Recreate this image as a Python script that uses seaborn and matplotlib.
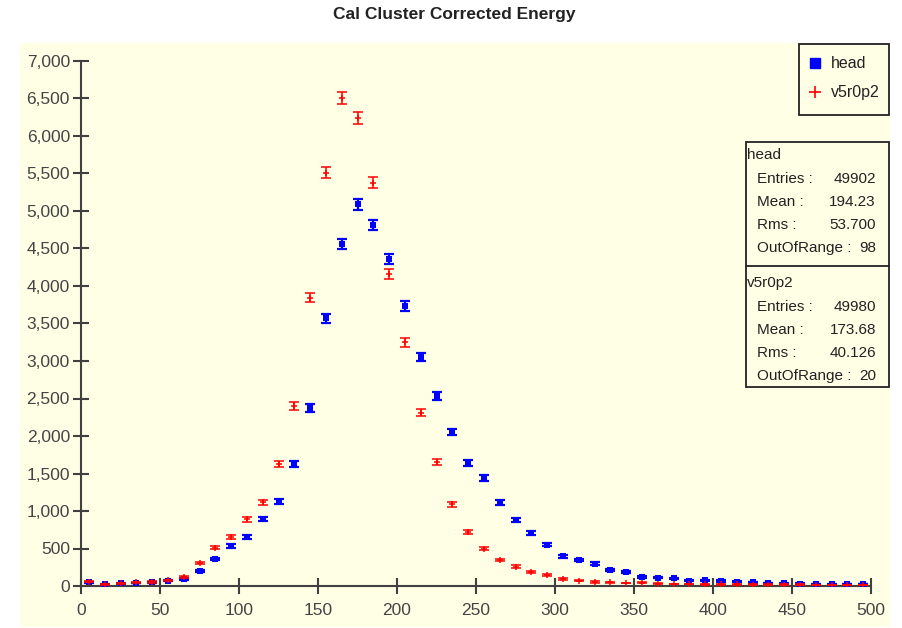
import numpy as np
import pandas as pd
import matplotlib
matplotlib.use("Agg")
import matplotlib.pyplot as plt
import seaborn as sns
from matplotlib.patches import Rectangle
from matplotlib.lines import Line2D
from matplotlib.ticker import StrMethodFormatter, MultipleLocator

# ---------------- data ----------------
bin_centers = [5, 15, 25, 35, 45, 55, 65, 75, 85, 95,
               105, 115, 125, 135, 145, 155, 165, 175, 185, 195,
               205, 215, 225, 235, 245, 255, 265, 275, 285, 295,
               305, 315, 325, 335, 345, 355, 365, 375, 385, 395,
               405, 415, 425, 435, 445, 455, 465, 475, 485, 495]

head_counts = [50, 25, 35, 40, 50, 70, 95, 204, 360, 533,
               649, 893, 1133, 1627, 2373, 3569, 4560, 5089, 4813, 4360,
               3733, 3049, 2533, 2053, 1640, 1440, 1111, 880, 711, 551,
               400, 347, 298, 213, 190, 124, 111, 102, 71, 76,
               67, 58, 49, 40, 36, 31, 22, 22, 27, 27]

v5_counts = [57, 25, 35, 49, 53, 76, 116, 307, 511, 658,
             889, 1116, 1627, 2400, 3844, 5511, 6511, 6236, 5378, 4156,
             3249, 2311, 1653, 1090, 716, 498, 347, 258, 187, 142,
             93, 71, 53, 49, 40, 44, 31, 27, 27, 22,
             22, 22, 18, 18, 18, 18, 13, 13, 13, 13]

series_names = ["head", "v5r0p2"]
series_colors = ["#0000FF", "#FF0000"]

stat_labels = ["Entries :", "Mean :", "Rms :", "OutOfRange :"]
head_stats = ["49902", "194.23", "53.700", "98"]
v5_stats = ["49980", "173.68", "40.126", "20"]

title_text = "Cal Cluster Corrected Energy"

# ---------------- style ----------------
sns.set_style("ticks")
plt.rcParams["font.family"] = ["Liberation Sans", "DejaVu Sans"]

W, H = 903, 628
PANEL = "#FFFFE6"
AXC = "#404040"


def fx(x):
    return x / W


def fy(y):
    return 1 - y / H


fig = plt.figure(figsize=(W / 100, H / 100), dpi=100)
fig.patch.set_facecolor("white")
fig.patches.append(Rectangle((fx(20), fy(627)), (890 - 20) / W, (627 - 43) / H,
                             transform=fig.transFigure, facecolor=PANEL,
                             edgecolor="none", zorder=-10))

ax = fig.add_axes([fx(81), fy(586), 790 / W, 525 / H])
ax.set_zorder(1)
ax.set_facecolor("none")

df = pd.DataFrame({
    "x": bin_centers * 2,
    "count": head_counts + v5_counts,
    "series": [series_names[0]] * len(bin_centers) + [series_names[1]] * len(bin_centers),
})
df["err"] = np.sqrt(df["count"])

# blue (head) first, red on top
h = df[df.series == "head"]
ax.errorbar(h["x"], h["count"], yerr=h["err"], fmt="none", ecolor=series_colors[0],
            elinewidth=1.6, capsize=3.7, capthick=1.6, zorder=3)
sns.scatterplot(data=h, x="x", y="count", marker="s", s=14, color=series_colors[0],
                edgecolor=series_colors[0], linewidth=0, ax=ax, zorder=4, legend=False)

r = df[df.series == "v5r0p2"]
ax.errorbar(r["x"], r["count"], yerr=r["err"], fmt="none", ecolor=series_colors[1],
            elinewidth=1.1, capsize=3.6, capthick=1.1, zorder=5)
sns.scatterplot(data=r, x="x", y="count", marker="+", s=22, color=series_colors[1],
                linewidth=1.1, ax=ax, zorder=6, legend=False)

ax.set_xlim(0, 500)
ax.set_ylim(0, 7000)
ax.set_xlabel("")
ax.set_ylabel("")
ax.xaxis.set_major_locator(MultipleLocator(50))
ax.yaxis.set_major_locator(MultipleLocator(500))
ax.yaxis.set_major_formatter(StrMethodFormatter("{x:,.0f}"))
for s in ["top", "right"]:
    ax.spines[s].set_visible(False)
for s in ["left", "bottom"]:
    ax.spines[s].set_color(AXC)
    ax.spines[s].set_linewidth(1.5)
ax.tick_params(axis="both", direction="inout", length=12, width=1.5, color=AXC,
               labelsize=12.5, labelcolor="#444444")
ax.tick_params(axis="y", pad=2)
ax.tick_params(axis="x", pad=6)

# title
fig.text(fx(454), fy(15), title_text, ha="center", va="center", fontsize=12.5,
         fontweight="bold", color="#222222")

# legend box
fig.patches.append(Rectangle((fx(799), fy(115)), 90 / W, 71 / H, transform=fig.transFigure,
                             facecolor=PANEL, edgecolor="#222222", linewidth=1.3, zorder=10))
fig.add_artist(Line2D([fx(815)], [fy(63)], marker="s", markersize=6.5, color=series_colors[0],
                      linestyle="none", transform=fig.transFigure, zorder=11))
fig.add_artist(Line2D([fx(815)], [fy(92)], marker="+", markersize=9, markeredgewidth=1.2,
                      color=series_colors[1], linestyle="none", transform=fig.transFigure, zorder=11))
fig.text(fx(831), fy(63), series_names[0], ha="left", va="center", fontsize=11.5, color="#222222", zorder=12)
fig.text(fx(831), fy(92), series_names[1], ha="left", va="center", fontsize=11.5, color="#222222", zorder=12)

# statistics box
fig.patches.append(Rectangle((fx(746), fy(387)), 143 / W, 245 / H, transform=fig.transFigure,
                             facecolor=PANEL, edgecolor="#222222", linewidth=1.3, zorder=10))
fig.add_artist(Line2D([fx(746), fx(889)], [fy(266), fy(266)], color="#222222", linewidth=1.3,
                      transform=fig.transFigure, zorder=11))

for name, vals, y0 in [(series_names[0], head_stats, 155), (series_names[1], v5_stats, 283)]:
    fig.text(fx(747), fy(y0), name, ha="left", va="center", fontsize=11, color="#222222", zorder=12)
    for i, (lab, val) in enumerate(zip(stat_labels, vals)):
        yy = y0 + 24 + i * 23
        fig.text(fx(757), fy(yy), lab, ha="left", va="center", fontsize=11, color="#222222", zorder=12)
        fig.text(fx(876), fy(yy), val, ha="right", va="center", fontsize=11, color="#222222", zorder=12)

fig.savefig("out.png", dpi=100, facecolor="white")
